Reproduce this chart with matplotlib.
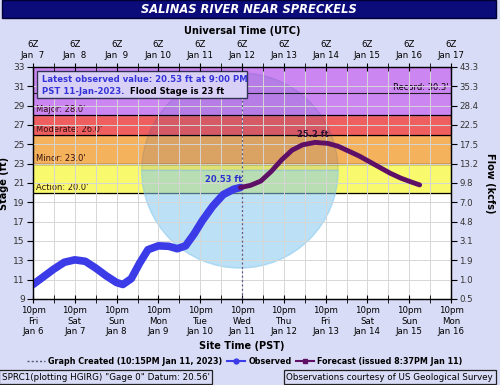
import matplotlib
matplotlib.use('Agg')
import matplotlib.pyplot as plt
from matplotlib.lines import Line2D
from matplotlib.patches import Wedge, Rectangle
from matplotlib.transforms import Affine2D

# days since Jan 6 10pm PST (= Jan 7 06Z)
obs_days = [0.0, 0.25, 0.5, 0.75, 1.0, 1.25, 1.5, 1.75, 2.0, 2.15, 2.35, 2.55, 2.75,
            3.0, 3.25, 3.45, 3.65, 3.85, 4.05, 4.3, 4.55, 4.8, 4.96]
obs_stage = [10.5, 11.3, 12.1, 12.8, 13.05, 12.9, 12.2, 11.4, 10.7, 10.5, 11.1, 12.7, 14.1,
             14.5, 14.45, 14.2, 14.5, 15.7, 17.1, 18.6, 19.8, 20.35, 20.53]
fcst_days = [4.96, 5.2, 5.45, 5.7, 5.95, 6.2, 6.45, 6.75, 7.05, 7.3, 7.55, 7.8, 8.05,
             8.3, 8.55, 8.8, 9.05, 9.25]
fcst_stage = [20.53, 20.75, 21.2, 22.2, 23.4, 24.4, 24.95, 25.2, 25.1, 24.8, 24.3, 23.8, 23.2,
              22.6, 22.0, 21.5, 21.1, 20.8]

stage_ticks = [9, 11, 13, 15, 17, 19, 21, 23, 25, 27, 29, 31, 33]
flow_labels = ['0.5', '1.0', '1.9', '3.1', '4.8', '7.0', '9.8', '13.2', '17.5', '22.5',
               '28.4', '35.3', '43.3']
bottom_labels = ['10pm\nFri\nJan 6', '10pm\nSat\nJan 7', '10pm\nSun\nJan 8', '10pm\nMon\nJan 9',
                 '10pm\nTue\nJan 10', '10pm\nWed\nJan 11', '10pm\nThu\nJan 12', '10pm\nFri\nJan 13',
                 '10pm\nSat\nJan 14', '10pm\nSun\nJan 15', '10pm\nMon\nJan 16']
top_labels = ['6Z\nJan  7', '6Z\nJan  8', '6Z\nJan  9', '6Z\nJan 10', '6Z\nJan 11', '6Z\nJan 12',
              '6Z\nJan 13', '6Z\nJan 14', '6Z\nJan 15', '6Z\nJan 16', '6Z\nJan 17']

# flood category bands
bands = [(20.0, 23.0, '#f9f96e', "Action: 20.0'"),
         (23.0, 26.0, '#f5b25c', "Minor: 23.0'"),
         (26.0, 28.0, '#ef5f5f', "Moderate: 26.0'"),
         (28.0, 33.0, '#cc86f2', "Major: 28.0'")]
record_stage = 30.3
created_day = 5.01

bg = '#d9dcf6'
fs = 6.2
fig = plt.figure(figsize=(5, 3.85), dpi=100, facecolor=bg)
ax = fig.add_axes([0.066, 0.2234, 0.836, 0.6026])
ax.set_facecolor('white')
ax.set_xlim(0, 10)
ax.set_ylim(9, 33)

for lo, hi, col, lab in bands:
    ax.axhspan(lo, hi, color=col, zorder=0)
    ax.axhline(lo, color='black', lw=0.9, zorder=1)
    ax.text(0.07, lo + 0.1, lab, fontsize=6, color='#331111', va='bottom', zorder=2)
ax.axhline(record_stage, color='#222222', lw=0.8, zorder=1)
ax.text(9.95, record_stage + 0.1, "Record: 30.3'", fontsize=6, ha='right', va='bottom', zorder=2)

# faint NOAA watermark (circle in pixel space)
circ = Affine2D().scale(2.35, 10.1).translate(4.95, 22.3) + ax.transData
ax.add_patch(Wedge((0, 0), 1, 0, 180, transform=circ, color='#1a3d9a', alpha=0.12, zorder=1.5))
ax.add_patch(Wedge((0, 0), 1, 180, 360, transform=circ, color='#86c8ee', alpha=0.55, zorder=1.5))

ax.set_xticks(range(0, 11))
ax.set_xticks([i + 0.5 for i in range(10)], minor=True)
ax.set_xticklabels(bottom_labels, fontsize=fs, linespacing=1.25)
ax.set_yticks(stage_ticks)
ax.set_yticklabels([str(t) for t in stage_ticks], fontsize=fs + 0.3, color='#333333')
ax.grid(True, which='both', color='#d6d6d6', lw=0.7, zorder=1)
ax.set_axisbelow(False)
ax.tick_params(axis='x', which='both', direction='inout', length=6, pad=2)
ax.tick_params(axis='y', direction='out', length=4, pad=2)
for s in ax.spines.values():
    s.set_color('black')
    s.set_linewidth(0.9)

ax.axvline(created_day, color='#555588', lw=0.9, ls=(0, (1.5, 2)), zorder=3)
ax.plot(obs_days, obs_stage, color='#3b3be8', lw=5.5, solid_capstyle='round', zorder=4)
ax.plot(fcst_days, fcst_stage, color='#5e0f66', lw=3.5, solid_capstyle='round', zorder=5)
ax.text(5.0, 21.4, '20.53 ft', color='#3030d0', fontsize=6, fontweight='bold', ha='right',
        va='center', zorder=6)
ax.text(6.69, 26.0, '25.2 ft', color='#331133', fontsize=6, fontweight='bold', ha='center',
        va='center', zorder=6)

# latest observed box
ax.add_patch(Rectangle((0.1, 29.8), 5.02, 2.8, fc='#d8d0f6', ec='#333355', lw=1, zorder=7))
ax.text(0.22, 31.75, 'Latest observed value: 20.53 ft at 9:00 PM', color='#3434d8', fontsize=6.1,
        fontweight='bold', va='center', zorder=8)
ax.text(0.22, 30.5, 'PST 11-Jan-2023.', color='#3434d8', fontsize=6.1, fontweight='bold',
        va='center', zorder=8)
ax.text(2.32, 30.5, 'Flood Stage is 23 ft', color='black', fontsize=6.1, fontweight='bold',
        va='center', zorder=8)

ax.set_ylabel('Stage (ft)', fontsize=7, fontweight='bold', labelpad=3)
ax.set_xlabel('Site Time (PST)', fontsize=7, fontweight='bold', labelpad=3)

axr = ax.twinx()
axr.set_ylim(9, 33)
axr.set_yticks(stage_ticks)
axr.set_yticklabels(flow_labels, fontsize=fs, color='#333333')
axr.tick_params(axis='y', direction='out', length=4, pad=2)
axr.set_ylabel('Flow (kcfs)', fontsize=7, fontweight='bold', rotation=270, labelpad=12)

axt = ax.twiny()
axt.set_xlim(0, 10)
axt.set_xticks(range(0, 11))
axt.set_xticks([i + 0.5 for i in range(10)], minor=True)
axt.set_xticklabels(top_labels, fontsize=fs, linespacing=1.3)
axt.tick_params(axis='x', which='both', direction='inout', length=6, pad=2)
axt.set_xlabel('Universal Time (UTC)', fontsize=7, fontweight='bold', labelpad=4)

# title bar
fig.patches.append(Rectangle((0.004, 0.953), 0.988, 0.047, transform=fig.transFigure,
                             fc='#0b0b7a', ec='#000033', lw=1))
fig.text(0.498, 0.976, 'SALINAS RIVER NEAR SPRECKELS', color='white', fontsize=8.3,
         fontweight='bold', fontstyle='italic', ha='center', va='center')

handles = [Line2D([], [], color='#555577', ls=(0, (1.5, 1.5)), lw=1),
           Line2D([], [], color='#3b3be8', lw=1.5, marker='o', ms=3.5),
           Line2D([], [], color='#5e0f66', lw=1.5, marker='s', ms=3)]
labels = ['Graph Created (10:15PM Jan 11, 2023)', 'Observed', 'Forecast (issued 8:37PM Jan 11)']
fig.legend(handles, labels, loc='center', bbox_to_anchor=(0.49, 0.062), ncol=3, frameon=False,
           prop={'size': 5.8, 'weight': 'bold'}, handlelength=2.2, columnspacing=0.6,
           handletextpad=0.4)

fig.text(0.003, 0.02, 'SPRC1(plotting HGIRG) "Gage 0" Datum: 20.56\'', fontsize=6.3,
         va='center', bbox=dict(boxstyle='square,pad=0.3', fc=bg, ec='#222222', lw=0.9))
fig.text(0.986, 0.02, 'Observations courtesy of US Geological Survey', fontsize=6.3,
         va='center', ha='right', bbox=dict(boxstyle='square,pad=0.3', fc=bg, ec='#222222', lw=0.9))

fig.savefig('out.png', dpi=100, facecolor=bg)
